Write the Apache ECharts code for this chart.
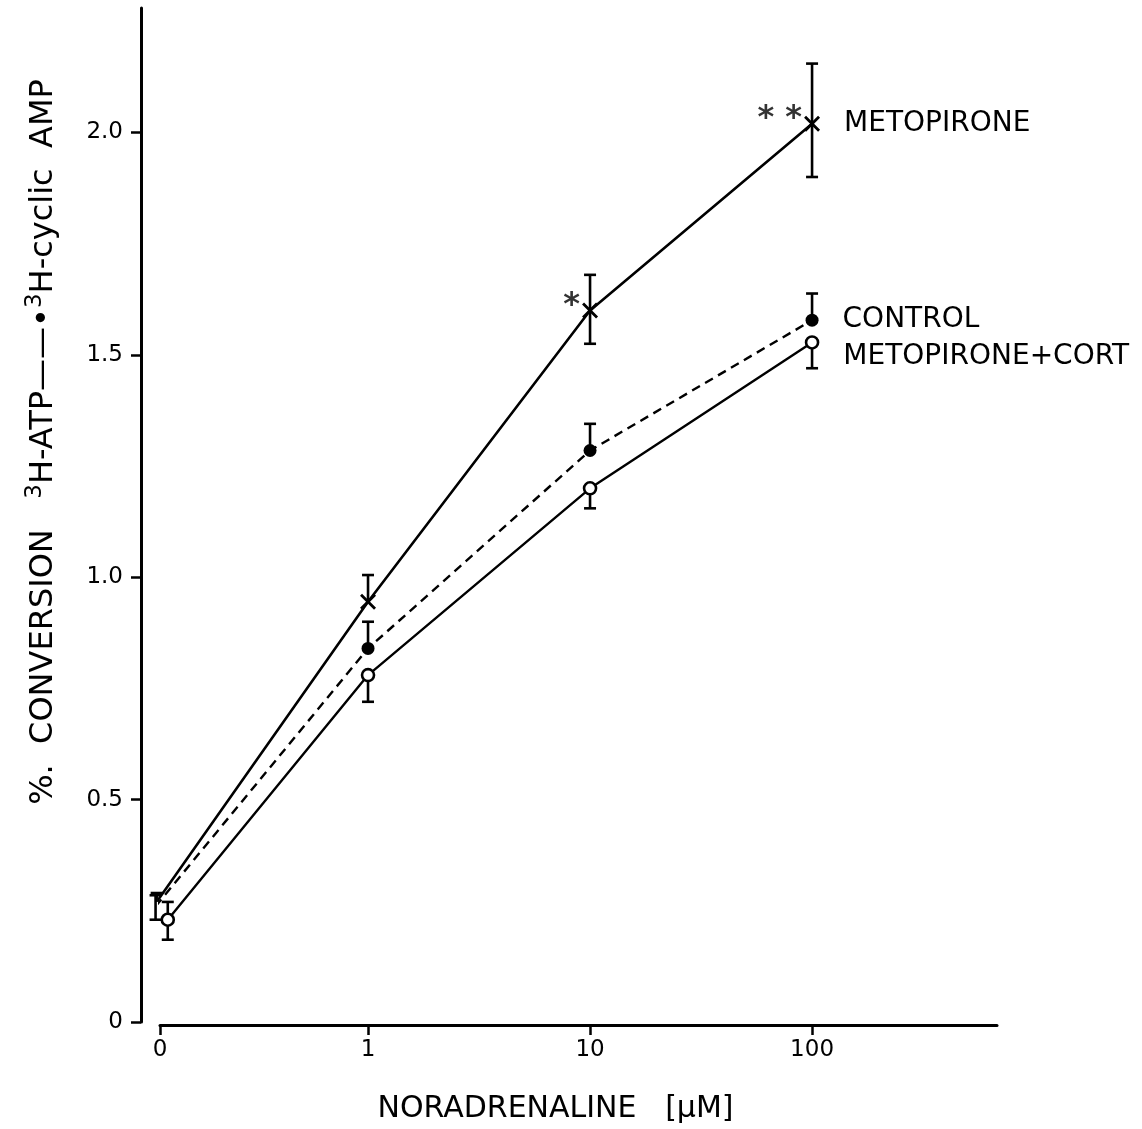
<!DOCTYPE html>
<html>
<head>
<meta charset="utf-8">
<script src="https://cdn.jsdelivr.net/npm/echarts@6/dist/echarts.min.js"></script>
<style>
  html, body { margin: 0; padding: 0; background: #fff; }
  #chart { width: 1142px; height: 1129px; }
</style>
</head>
<body>
<div id="chart"></div>
<script>
// dose axis: 0, 1, 10, 100 uM (log spacing, "0" put in front)
var doseLabels = ['0', '1', '10', '100'];
var doses = [0, 1, 10, 100];

var metopirone = [0.27, 0.945, 1.60, 2.02];
var metopironeLow = [0, 0, 0.075, 0.12];
var metopironeHigh = [0.02, 0.06, 0.08, 0.135];
var metopironeStars = ['', '', '*', '* *'];

var control = [0.26, 0.84, 1.285, 1.578];
var controlLow = [0.03, 0, 0, 0];
var controlHigh = [0.025, 0.06, 0.06, 0.06];

var metoCort = [0.23, 0.78, 1.20, 1.528];
var metoCortLow = [0.045, 0.06, 0.045, 0.058];
var metoCortHigh = [0.04, 0, 0, 0];

var yTicks = [0, 0.5, 1.0, 1.5, 2.0];

var ZERO_POS = -0.937;
var FONT = 'DejaVu Sans';
var crossPath = 'path://M0,2.5L2.5,0L10,7.5L17.5,0L20,2.5L12.5,10L20,17.5L17.5,20L10,12.5L2.5,20L0,17.5L7.5,10Z';

var chart = echarts.init(document.getElementById('chart'), null, {renderer: 'canvas'});

function xPos(dose, shift) {
    return dose === 0 ? ZERO_POS + shift : Math.log10(dose);
}

function linePoints(values, shift) {
    var out = [];
    for (var i = 0; i < doses.length; i++) {
        out.push([xPos(doses[i], shift), values[i]]);
    }
    return out;
}

function barPoints(values, low, high, shift) {
    var out = [];
    for (var i = 0; i < doses.length; i++) {
        out.push([xPos(doses[i], shift), values[i], low[i], high[i]]);
    }
    return out;
}

function renderErrorBar(params, api) {
    var x = api.value(0), y = api.value(1), lo = api.value(2), hi = api.value(3);
    var top = api.coord([x, y + hi]);
    var bot = api.coord([x, y - lo]);
    var st = {stroke: '#000', lineWidth: 2.6};
    var kids = [{type: 'line', shape: {x1: top[0], y1: top[1], x2: bot[0], y2: bot[1]}, style: st}];
    if (hi > 0) kids.push({type: 'line', shape: {x1: top[0] - 6, y1: top[1], x2: top[0] + 6, y2: top[1]}, style: st});
    if (lo > 0) kids.push({type: 'line', shape: {x1: bot[0] - 6, y1: bot[1], x2: bot[0] + 6, y2: bot[1]}, style: st});
    return {type: 'group', children: kids};
}

// name written to the right of the last point
function withEndLabel(points, text, offset) {
    return points.map(function (p, i) {
        var item = {value: p};
        if (i === points.length - 1) {
            item.label = {
                show: true, position: 'right', distance: 24, offset: offset,
                formatter: text, fontFamily: FONT, fontSize: 28, color: '#000'
            };
        }
        return item;
    });
}

var metoPts = linePoints(metopirone, -0.015);
var ctrlPts = linePoints(control, -0.02);
var cortPts = linePoints(metoCort, 0.035);

var starPts = [];
for (var i = 0; i < metoPts.length; i++) {
    if (metopironeStars[i]) {
        starPts.push({value: metoPts[i], label: {formatter: metopironeStars[i]}});
    }
}

var option = {
    animation: false,
    backgroundColor: '#fff',
    grid: {left: 160, right: 145, top: 8, bottom: 104},
    graphic: [{
        type: 'text',
        x: 44,
        y: 442,
        rotation: Math.PI / 2,
        style: {
            text: '{t|%.  CONVERSION   }{s|3}{t|H-ATP——•}{s|3}{t|H-cyclic  AMP}',
            align: 'center',
            verticalAlign: 'middle',
            rich: {
                t: {fontFamily: FONT, fontSize: 32, fill: '#000'},
                s: {fontFamily: FONT, fontSize: 23, fill: '#000', padding: [0, 0, 17, 0]}
            }
        }
    }],
    xAxis: {
        type: 'value',
        min: ZERO_POS,
        max: 2.833,
        offset: 3,
        axisLine: {onZero: false, lineStyle: {color: '#000', width: 3}},
        axisTick: {show: true, length: 10, customValues: [ZERO_POS, 0, 1, 2], lineStyle: {color: '#000', width: 2.5}},
        axisLabel: {
            customValues: [ZERO_POS, 0, 1, 2],
            margin: 14,
            fontFamily: FONT, fontSize: 23, color: '#000',
            formatter: function (v) {
                if (v < -0.5) return doseLabels[0];
                return doseLabels[Math.round(v) + 1];
            }
        },
        splitLine: {show: false},
        name: 'NORADRENALINE   [µM]',
        nameLocation: 'middle',
        nameGap: 69,
        nameTextStyle: {fontFamily: FONT, fontSize: 30, color: '#000', padding: [0, 46, 0, 0]}
    },
    yAxis: {
        type: 'value',
        min: 0,
        max: 2.28,
        offset: 19,
        axisLine: {show: true, onZero: false, lineStyle: {color: '#000', width: 3}},
        axisTick: {show: true, length: 10, customValues: yTicks, lineStyle: {color: '#000', width: 2.5}},
        axisLabel: {
            customValues: yTicks,
            margin: 18,
            fontFamily: FONT, fontSize: 23, color: '#000',
            formatter: function (v) {
                return v === 0 ? '0' : v.toFixed(1);
            }
        },
        splitLine: {show: false}
    },
    series: [
        {
            type: 'custom', renderItem: renderErrorBar, z: 1,
            encode: {x: 0, y: 1},
            data: barPoints(metopirone, metopironeLow, metopironeHigh, -0.015)
        },
        {
            type: 'custom', renderItem: renderErrorBar, z: 1,
            encode: {x: 0, y: 1},
            data: barPoints(control, controlLow, controlHigh, -0.02)
        },
        {
            type: 'custom', renderItem: renderErrorBar, z: 1,
            encode: {x: 0, y: 1},
            data: barPoints(metoCort, metoCortLow, metoCortHigh, 0.035)
        },
        {
            name: 'METOPIRONE', type: 'line', z: 3,
            symbol: crossPath, symbolSize: 16, showAllSymbol: true,
            lineStyle: {color: '#000', width: 2.6},
            itemStyle: {color: '#000'},
            data: withEndLabel(metoPts, 'METOPIRONE', [0, 0])
        },
        {
            name: 'stars', type: 'scatter', z: 5,
            symbolSize: 16, itemStyle: {color: 'rgba(0,0,0,0)'},
            label: {
                show: true, position: 'left', distance: 2, offset: [0, -5],
                fontFamily: FONT, fontSize: 32, fontWeight: 'bold', color: '#000'
            },
            data: starPts
        },
        {
            name: 'CONTROL', type: 'line', z: 3,
            symbol: 'circle', symbolSize: 13, showAllSymbol: true,
            lineStyle: {color: '#000', width: 2.4, type: [9, 6]},
            itemStyle: {color: '#000'},
            data: withEndLabel(ctrlPts, 'CONTROL', [0, 0])
        },
        {
            name: 'METOPIRONE+CORT', type: 'line', z: 4,
            symbol: 'circle', symbolSize: 12, showAllSymbol: true,
            lineStyle: {color: '#000', width: 2.4},
            itemStyle: {color: '#fff', borderColor: '#000', borderWidth: 2.6},
            data: withEndLabel(cortPts, 'METOPIRONE+CORT', [0, 14])
        }
    ]
};

chart.setOption(option);
</script>
</body>
</html>
